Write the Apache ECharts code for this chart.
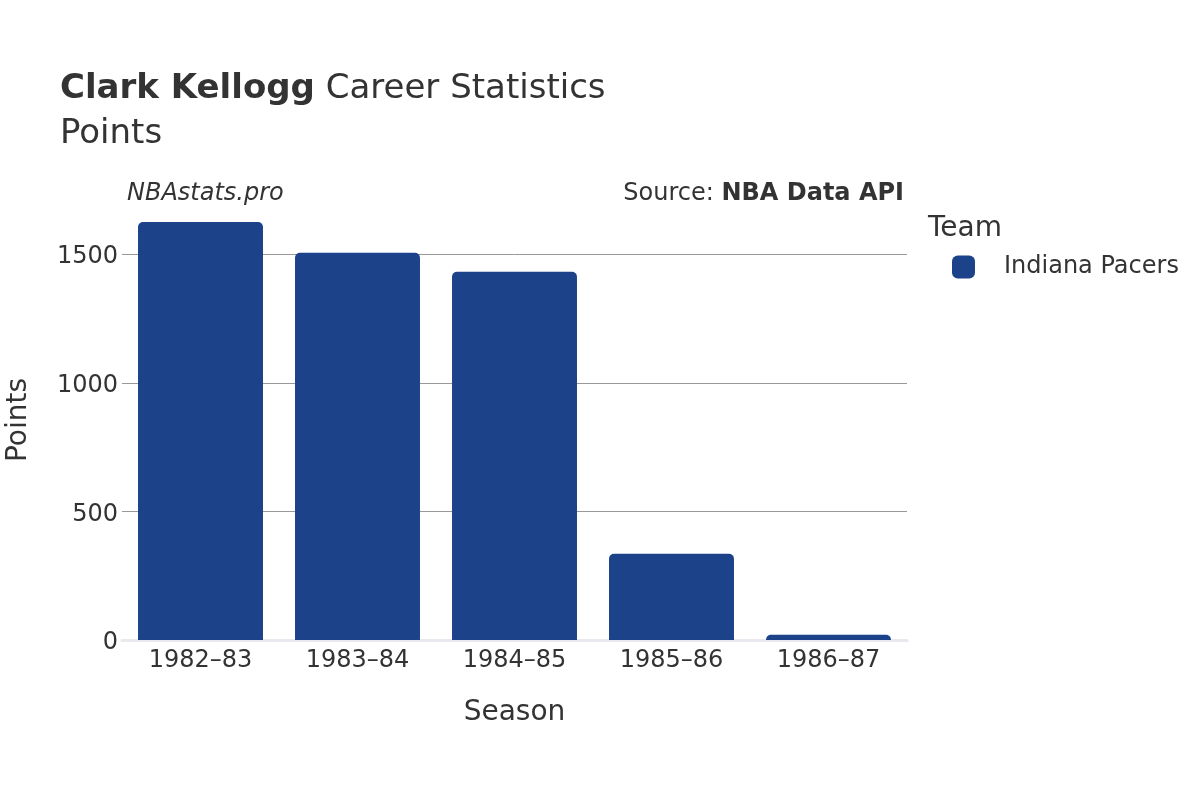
<!DOCTYPE html>
<html><head><meta charset="utf-8">
<script src="https://cdn.jsdelivr.net/npm/echarts@6/dist/echarts.min.js"></script>
<style>html,body{margin:0;padding:0;background:#fff}#c{width:1200px;height:800px}</style>
</head><body><div id="c"></div>
<script>
const seasons = ['1982–83','1983–84','1984–85','1985–86','1986–87'];
const points = [1625, 1506, 1432, 335, 20];
const teamName = 'Indiana Pacers';
const yTicks = [0, 500, 1000, 1500];

const font = 'DejaVu Sans';
const chart = echarts.init(document.getElementById('c'));
chart.setOption({
  animation: false,
  textStyle: {fontFamily: font},
  title: [
    {text: '{b|Clark Kellogg} Career Statistics', left: 60, top: 72, padding: 0,
     textStyle: {fontFamily: font, fontSize: 34, fontWeight: 'normal', color: '#333',
       rich: {b: {fontFamily: font, fontSize: 34, fontWeight: 'bold', color: '#333'}}}},
    {text: 'Points', left: 60, top: 117, padding: 0, textStyle: {fontFamily: font, fontSize: 34, fontWeight: 'normal', color: '#333'}}
  ],
  graphic: [
    {type: 'text', left: 127, top: 182, style: {text: 'NBAstats.pro', font: 'italic 24px "DejaVu Sans"', fill: '#333'}},
    {type: 'text', right: 296, top: 182, style: {text: '{n|Source: }{b|NBA Data API}', font: '24px "DejaVu Sans"', fill: '#333',
      rich: {n: {fontFamily: font, fontSize: 24, color: '#333'}, b: {fontFamily: font, fontSize: 24, fontWeight: 'bold', color: '#333'}}}},
    {type: 'text', left: 928, top: 215, style: {text: 'Team', font: '28px "DejaVu Sans"', fill: '#333'}}
  ],
  legend: {
    left: 952, top: 255, padding: 0, orient: 'vertical', icon: 'roundRect', itemWidth: 23, itemHeight: 23, itemGap: 10,
    textStyle: {fontFamily: font, fontSize: 24, color: '#333', padding: [0,0,0,24]},
    data: [teamName]
  },
  grid: {left: 122, right: 293, top: 200, bottom: 160, containLabel: false, outerBoundsMode: 'none'},
  xAxis: {
    type: 'category', data: seasons, name: 'Season', nameLocation: 'middle', nameGap: 59,
    nameTextStyle: {fontFamily: font, fontSize: 28, color: '#333'},
    axisLine: {show: true, lineStyle: {color: '#e8e8ee', width: 3}},
    axisTick: {show: false},
    axisLabel: {fontFamily: font, fontSize: 24, color: '#333', margin: 9}
  },
  yAxis: {
    type: 'value', min: 0, max: 1711, interval: 500, name: 'Points', nameLocation: 'middle', nameGap: 89,
    nameTextStyle: {fontFamily: font, fontSize: 28, color: '#333'},
    axisLine: {show: false}, axisTick: {show: false},
    splitLine: {showMaxLine: false, showMinLine: false, lineStyle: {color: '#999', width: 1}},
    axisLabel: {fontFamily: font, fontSize: 24, color: '#333', margin: 4, showMaxLabel: false,
      rich: {a: {fontFamily: font, fontSize: 24, color: '#333', padding: [6,0,0,0]}},
      formatter: v => yTicks.includes(v) ? '{a|' + v + '}' : ''}
  },
  series: [{
    name: teamName, type: 'bar', data: points, barCategoryGap: '20.4%',
    itemStyle: {color: '#1c4289', borderRadius: [5,5,0,0]}
  }]
});
</script></body></html>
